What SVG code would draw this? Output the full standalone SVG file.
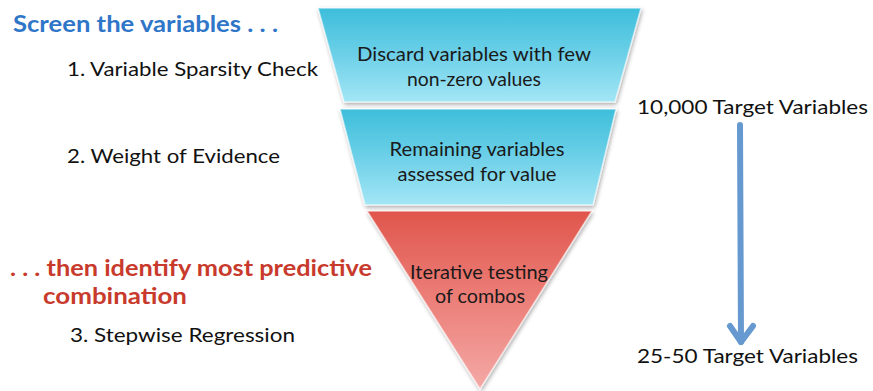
<svg xmlns="http://www.w3.org/2000/svg" width="873" height="391" viewBox="0 0 873 391">
<defs>
<linearGradient id="gBlue" x1="0" y1="0" x2="0" y2="1">
<stop offset="0" stop-color="#3dbedb"/>
<stop offset="0.5" stop-color="#6dd0e8"/>
<stop offset="1" stop-color="#a3e6f5"/>
</linearGradient>
<linearGradient id="gRed" x1="0" y1="0" x2="0" y2="1">
<stop offset="0" stop-color="#e0564c"/>
<stop offset="0.5" stop-color="#ec7f79"/>
<stop offset="1" stop-color="#f4a9a6"/>
</linearGradient>
<filter id="sh" x="-10%" y="-10%" width="120%" height="125%">
<feGaussianBlur in="SourceAlpha" stdDeviation="2"/>
<feOffset dx="1" dy="2" result="b"/>
<feComponentTransfer><feFuncA type="linear" slope="0.35"/></feComponentTransfer>
<feMerge><feMergeNode/><feMergeNode in="SourceGraphic"/></feMerge>
</filter>
</defs>
<style>
text{font-family:Lato,"Liberation Sans",sans-serif;}
.lbl{font-size:20px;fill:#111;}
.fn{font-size:19px;fill:#1a1a1a;text-anchor:middle;}
.hb{font-size:22px;font-weight:bold;fill:#2f76c8;}
.hr{font-size:22px;font-weight:bold;fill:#c83a2c;}
.band{stroke:#ffffff;stroke-width:1.5;stroke-opacity:0.6;filter:url(#sh);}
.arrow{stroke:#6699cf;stroke-width:6;fill:none;stroke-linecap:round;stroke-linejoin:round;}
</style>
<rect width="873" height="391" fill="#ffffff"/>

<g id="band1">
<polygon class="band" points="318,8 641,8 615,102 344,102" fill="url(#gBlue)"/>
<text class="fn" x="474" y="61" textLength="234" lengthAdjust="spacingAndGlyphs">Discard variables with few</text>
<text class="fn" x="474" y="86" textLength="134" lengthAdjust="spacingAndGlyphs">non-zero values</text>
</g>
<g id="band2">
<polygon class="band" points="340,109 616,109 593,205 365,205" fill="url(#gBlue)"/>
<text class="fn" x="477" y="156" textLength="175" lengthAdjust="spacingAndGlyphs">Remaining variables</text>
<text class="fn" x="477" y="181" textLength="159" lengthAdjust="spacingAndGlyphs">assessed for value</text>
</g>
<g id="band3">
<polygon class="band" points="367,211 592,211 480,389" fill="url(#gRed)"/>
<text class="fn" x="479" y="279" textLength="138" lengthAdjust="spacingAndGlyphs">Iterative testing</text>
<text class="fn" x="480" y="303" textLength="90" lengthAdjust="spacingAndGlyphs">of combos</text>
</g>

<g id="labels-left">
<text class="hb" x="13" y="32" textLength="265" lengthAdjust="spacingAndGlyphs">Screen the variables . . .</text>
<text class="lbl" x="67" y="76" textLength="251" lengthAdjust="spacingAndGlyphs">1. Variable Sparsity Check</text>
<text class="lbl" x="67" y="163" textLength="213" lengthAdjust="spacingAndGlyphs">2. Weight of Evidence</text>
<text class="hr" x="10" y="276" textLength="362" lengthAdjust="spacingAndGlyphs">. . . then identify most predictive</text>
<text class="hr" x="43" y="304" textLength="144" lengthAdjust="spacingAndGlyphs">combination</text>
<text class="lbl" x="70" y="342" textLength="225" lengthAdjust="spacingAndGlyphs">3. Stepwise Regression</text>
</g>

<g id="labels-right">
<text class="lbl" x="637" y="114" textLength="231" lengthAdjust="spacingAndGlyphs">10,000 Target Variables</text>
<text class="lbl" x="637" y="363" textLength="221" lengthAdjust="spacingAndGlyphs">25-50 Target Variables</text>
</g>

<g id="connectors">
<line class="arrow" x1="740" y1="125" x2="741" y2="342"/>
<polyline class="arrow" points="730,326 741,342 753,326"/>
</g>
</svg>
